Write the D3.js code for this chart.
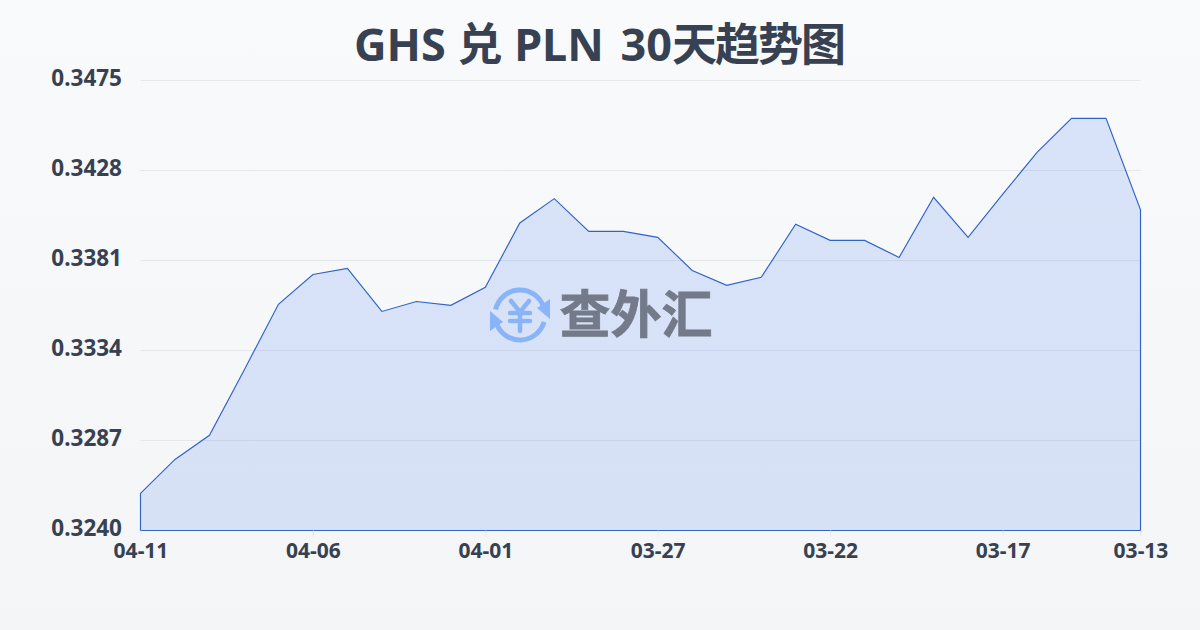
<!DOCTYPE html>
<html><head><meta charset="utf-8">
<script src="https://cdnjs.cloudflare.com/ajax/libs/d3/7.8.5/d3.min.js"></script>
<style>html,body{margin:0;padding:0;background:#f5f6f8}svg{display:block}</style>
</head><body><div id="chart"></div>
<script>
const titleParts = ["GHS 兑 PLN ","30","天趋势图"];
const dates = ["04-11","04-10","04-09","04-08","04-07","04-06","04-05","04-04","04-03","04-02","04-01","03-31","03-30","03-29","03-28","03-27","03-26","03-25","03-24","03-23","03-22","03-21","03-20","03-19","03-18","03-17","03-16","03-15","03-14","03-13"];
const rates = [0.32594,0.32771,0.32897,0.33236,0.33581,0.33737,0.33769,0.33544,0.33596,0.33576,0.33670,0.34006,0.34133,0.33962,0.33962,0.33931,0.33758,0.33680,0.33722,0.33999,0.33915,0.33915,0.33826,0.34140,0.33931,0.34155,0.34375,0.34552,0.34552,0.34075];
const yTicks = [0.3240,0.3287,0.3334,0.3381,0.3428,0.3475];
const xTickLabels = ["04-11","04-06","04-01","03-27","03-22","03-17","03-13"];
const watermarkText = "查外汇";

const W=1200,H=630,font="'Noto Sans','Noto Sans CJK SC',sans-serif";
const svg=d3.select("#chart").append("svg").attr("width",W).attr("height",H);
const defs=svg.append("defs");
const bg=defs.append("linearGradient").attr("id","bg").attr("x1",0).attr("y1",0).attr("x2",0).attr("y2",1);
bg.append("stop").attr("offset",0).attr("stop-color","#f9fafc");
bg.append("stop").attr("offset",1).attr("stop-color","#f3f5f7");
const ag=defs.append("linearGradient").attr("id","area").attr("gradientUnits","userSpaceOnUse").attr("x1",0).attr("y1",118).attr("x2",0).attr("y2",530);
ag.append("stop").attr("offset",0).attr("stop-color","#2563eb").attr("stop-opacity",0.15);
ag.append("stop").attr("offset",1).attr("stop-color","#2563eb").attr("stop-opacity",0.14);
svg.append("rect").attr("width",W).attr("height",H).attr("fill","url(#bg)");

const x=d3.scalePoint().domain(d3.range(dates.length)).range([140.5,1140.5]);
const y=d3.scaleLinear().domain([0.3240,0.3475]).range([530.5,80.5]);

const title=svg.append("text").attr("x",599).attr("y",61).attr("text-anchor","middle").attr("xml:space","preserve")
  .attr("font-family",font).attr("font-size",45).attr("font-weight",700).attr("fill","#374151");
title.append("tspan").text(titleParts[0]);
title.append("tspan").attr("dx",5).text(titleParts[1]);
title.append("tspan").attr("letter-spacing",-2).text(titleParts[2]);

const yAxis=svg.append("g").attr("transform","translate(140.5,0)")
  .call(d3.axisLeft(y).tickValues(yTicks).tickSize(0).tickPadding(18.5).tickFormat(d3.format(".4f")));
yAxis.select(".domain").remove();
yAxis.selectAll("text").attr("font-family",font).attr("font-size",22.5).attr("font-weight",700).attr("fill","#374151").attr("dy","0.2em");

svg.append("g").selectAll("line").data(yTicks.slice(1)).join("line")
  .attr("x1",140.5).attr("x2",1140.5).attr("y1",d=>y(d)).attr("y2",d=>y(d))
  .attr("stroke","#e5e7eb").attr("stroke-width",1);

const area=d3.area().x((d,i)=>x(i)).y0(y(0.3240)).y1(d=>y(d));
const path=area(rates);
svg.append("path").attr("d",path).attr("fill","url(#area)").attr("stroke","none");
svg.append("path").attr("d",path).attr("fill","none").attr("stroke","#2f63c8").attr("stroke-width",1.15);

const xIdx=xTickLabels.map(l=>dates.indexOf(l));
const xAxis=svg.append("g").attr("transform","translate(0,530.5)")
  .call(d3.axisBottom(x).tickValues(xIdx).tickSize(6).tickPadding(7).tickFormat(i=>dates[i]));
xAxis.select(".domain").remove();
xAxis.selectAll("line").attr("stroke","#e5e7eb");
xAxis.selectAll("text").attr("font-family",font).attr("font-size",21).attr("font-weight",700).attr("fill","#374151");

// watermark
const wm=svg.append("g");
const logo=wm.append("g").attr("transform","translate(520,315)").attr("fill","none").attr("stroke","#8ab4f8").attr("stroke-linecap","round");
logo.append("path").attr("d",d3.arc()({innerRadius:25,outerRadius:25,startAngle:-1.35,endAngle:1.2})).attr("stroke-width",5);
logo.append("path").attr("d",d3.arc()({innerRadius:25,outerRadius:25,startAngle:1.85,endAngle:4.35})).attr("stroke-width",5);
logo.append("path").attr("d","M17,-7 L30,-16 L30,4 Z").attr("fill","#8ab4f8").attr("stroke","none");
logo.append("path").attr("d","M-17,7 L-30,16 L-30,-4 Z").attr("fill","#8ab4f8").attr("stroke","none");
logo.append("path").attr("d","M-9,-14 L0,-3 L9,-14 M-10,-2 H10 M-10,6 H10 M0,-3 V16").attr("stroke-width",4.5);
wm.append("text").attr("x",636).attr("y",333).attr("text-anchor","middle").attr("font-family","'Noto Sans CJK SC',sans-serif")
  .attr("font-size",51).attr("font-weight",700).attr("fill","#6b7280").attr("stroke","#6b7280").attr("stroke-width",0.8).attr("opacity",0.92).text(watermarkText);
</script></body></html>
